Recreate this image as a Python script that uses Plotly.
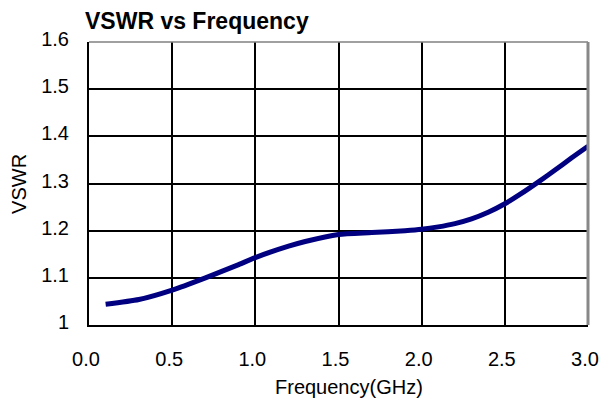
import plotly.graph_objects as go

freq = [0.1, 0.3, 0.5, 0.7, 0.9, 1.0, 1.2, 1.3, 1.5, 1.7, 1.9, 2.0, 2.1, 2.2, 2.3, 2.4, 2.5, 2.6, 2.7, 2.8, 2.9, 3.0]
vswr = [1.044, 1.054, 1.074, 1.100, 1.128, 1.143, 1.167, 1.177, 1.192, 1.196, 1.200, 1.203, 1.208, 1.215, 1.225, 1.239, 1.257, 1.279, 1.303, 1.328, 1.354, 1.379]
x_ticks = [0.0, 0.5, 1.0, 1.5, 2.0, 2.5, 3.0]
y_ticks = [1.0, 1.1, 1.2, 1.3, 1.4, 1.5, 1.6]
y_labels = ["1", "1.1", "1.2", "1.3", "1.4", "1.5", "1.6"]

FONT = "Liberation Sans, Arial, sans-serif"
W, H = 611, 403
L, R, T, B = 89, 13, 42, 78
PW, PH = W - L - R, H - T - B

fig = go.Figure()
fig.add_trace(go.Scatter(x=freq, y=vswr, mode="lines",
                         line=dict(color="#000080", width=5, shape="spline", smoothing=0.6),
                         showlegend=False, hoverinfo="skip"))

fig.update_layout(
    width=W, height=H,
    margin=dict(l=L, r=R, t=T, b=B),
    paper_bgcolor="white", plot_bgcolor="white",
    font=dict(family=FONT, color="black"),
    title=dict(text="<b>VSWR vs Frequency</b>", x=85/W, xanchor="left", xref="container",
               y=1-21/H, yanchor="middle", yref="container",
               font=dict(size=23, family=FONT, color="black")),
    xaxis=dict(range=[0, 3], tickvals=x_ticks, ticktext=[f"{v:.1f}" for v in x_ticks],
               showgrid=True, gridcolor="black", gridwidth=2, zeroline=False,
               showline=True, linecolor="black", linewidth=2,
               ticks="outside", ticklen=15, tickcolor="rgba(0,0,0,0)",
               ticklabelshift=-3,
               tickfont=dict(size=20, family=FONT, color="black"),
               fixedrange=True),
    yaxis=dict(range=[1, 1.6], tickvals=y_ticks, ticktext=y_labels,
               showgrid=True, gridcolor="black", gridwidth=2, zeroline=False,
               showline=True, linecolor="black", linewidth=2,
               ticks="outside", ticklen=14, tickcolor="rgba(0,0,0,0)",
               ticklabelshift=-3,
               tickfont=dict(size=20, family=FONT, color="black"),
               fixedrange=True),
    annotations=[
        dict(text="Frequency(GHz)", xref="paper", yref="paper",
             x=(354 - L) / PW, y=-(387 - (T + PH)) / PH, xanchor="center", yanchor="middle",
             showarrow=False, font=dict(size=20, family=FONT, color="black")),
        dict(text="VSWR", xref="paper", yref="paper", textangle=-90,
             x=(17 - L) / PW, y=0.5, xanchor="center", yanchor="middle",
             showarrow=False, font=dict(size=20, family=FONT, color="black")),
    ],
    shapes=[
        dict(type="line", xref="paper", yref="paper", x0=0, x1=1, y0=1, y1=1,
             line=dict(color="#808080", width=1.5)),
        dict(type="line", xref="paper", yref="paper", x0=1, x1=1, y0=0, y1=1,
             line=dict(color="#888888", width=3)),
    ],
)

fig.write_html("out.html", config={"displayModeBar": False},
               post_script="document.body.style.margin='0px';document.body.style.overflow='hidden';")
